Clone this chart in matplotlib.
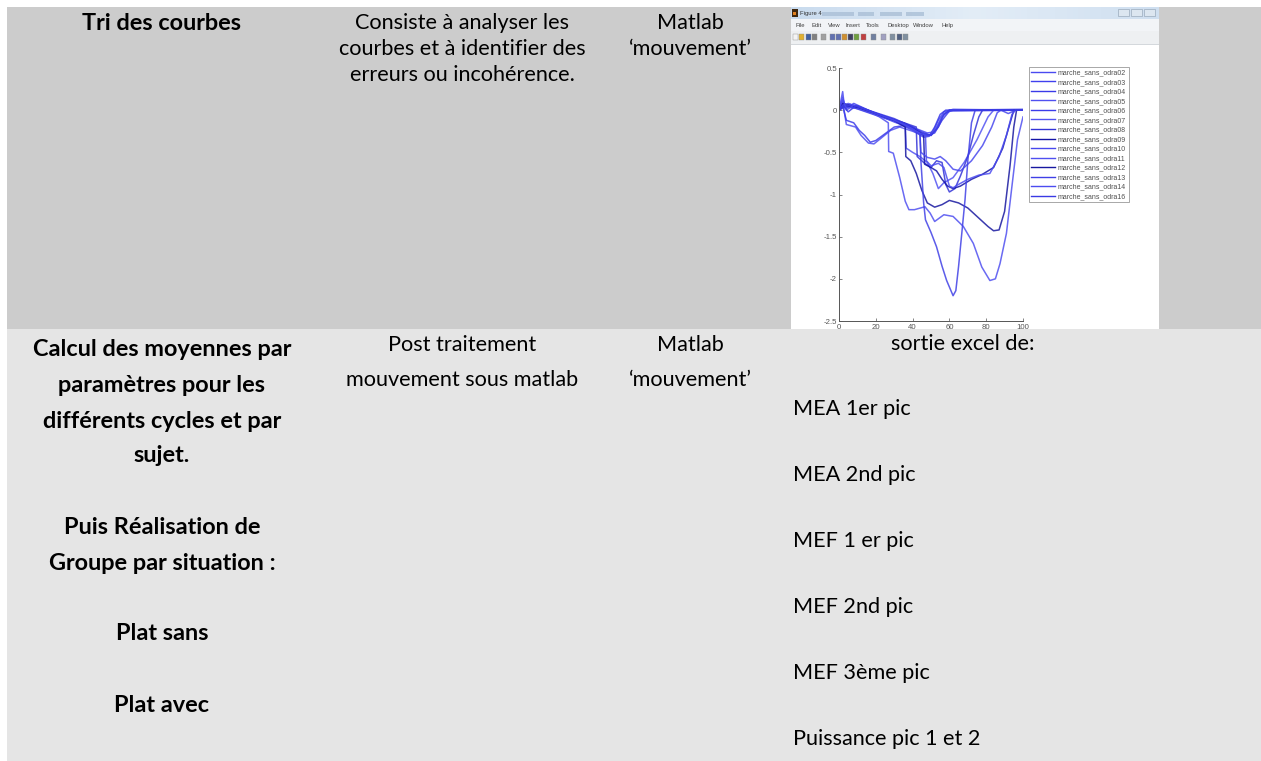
import numpy as np
import matplotlib
matplotlib.use("Agg")
import matplotlib.pyplot as plt
from matplotlib.patches import Rectangle
from matplotlib.lines import Line2D

plt.rcParams["axes.unicode_minus"] = False

W, H = 1261, 761

# === TABLE TEXT ===
ROW1_TASK = ["Tri des courbes"]
ROW1_DESC = ["Consiste à analyser les", "courbes et à identifier des", "erreurs ou incohérence."]
ROW1_TOOL = ["Matlab", "\u2018mouvement\u2019"]

ROW2_TASK = ["Calcul des moyennes par", "paramètres pour les", "différents cycles et par",
             "sujet.", "Puis Réalisation de", "Groupe par situation :", "Plat sans", "Plat avec"]
ROW2_DESC = ["Post traitement", "mouvement sous matlab"]
ROW2_TOOL = ["Matlab", "\u2018mouvement\u2019"]
ROW2_OUT_HEAD = "sortie excel de:"
ROW2_OUTPUTS = ["MEA 1er pic", "MEA 2nd pic", "MEF 1 er pic", "MEF 2nd pic",
                "MEF 3ème pic", "Puissance pic 1 et 2"]

# === EMBEDDED MATLAB FIGURE: curves (x, y) ===
odra02 = [(0, 0), (2, 0.22), (3, 0.03), (6, 0.07), (15, 0.0), (25, -0.08), (35, -0.15),
          (42, -0.22), (48, -0.27), (51, -0.26), (54, -0.12), (57, -0.02), (62, 0.01), (100, 0.0)]
odra03 = [(0, 0), (2, 0.12), (4, 0.02), (8, 0.08), (18, -0.02), (28, -0.1), (38, -0.19),
          (45, -0.27), (50, -0.3), (53, -0.22), (56, -0.08), (60, 0.0), (100, 0.0)]
odra04 = [(0, 0), (3, 0.05), (8, 0.03), (20, -0.06), (30, -0.13), (40, -0.24), (46, -0.32),
          (49, -0.31), (52, -0.2), (55, -0.05), (58, 0), (100, 0.01)]
odra05 = [(0, 0), (2, 0.1), (4, -0.17), (9, -0.2), (12, -0.3), (16, -0.39), (19, -0.4),
          (23, -0.33), (28, -0.24), (33, -0.2), (40, -0.25), (46, -0.3), (50, -0.29),
          (53, -0.2), (57, -0.04), (62, 0), (100, 0)]
odra06 = [(0, 0), (2, 0.05), (4, -0.12), (8, -0.15), (11, -0.24), (14, -0.3), (17, -0.38),
          (20, -0.36), (25, -0.28), (30, -0.2), (36, -0.18), (40, -0.2), (44, -0.27),
          (48, -0.3), (52, -0.27), (56, -0.12), (60, -0.01), (100, 0)]
odra07 = [(0, 0), (3, 0.07), (10, 0.03), (20, -0.05), (30, -0.12), (36, -0.18), (36.5, -0.45),
          (40, -0.5), (44, -0.55), (48, -0.62), (51, -0.75), (54, -0.93), (57, -0.86),
          (62, -0.8), (68, -0.62), (75, -0.35), (81, -0.08), (84, 0.0), (100, 0)]
odra08 = [(0, 0), (3, 0.05), (10, 0.05), (20, -0.04), (30, -0.11), (38, -0.17), (42, -0.2),
          (42.5, -0.55), (46, -0.62), (50, -0.68), (53, -0.6), (56, -0.62), (58, -0.88),
          (60, -0.97), (63, -0.93), (66, -0.78), (70, -0.55), (73, -0.3), (76, -0.08),
          (78, 0), (100, 0)]
odra09 = [(0, 0), (2, 0.08), (6, 0.06), (16, -0.01), (26, -0.09), (36, -0.16), (44, -0.26),
          (46, -0.3), (46.5, -0.64), (50, -0.68), (53, -0.72), (56, -0.82), (59, -0.9),
          (62, -0.93), (66, -0.9), (72, -0.82), (78, -0.76), (84, -0.68), (89, -0.45),
          (93, -0.15), (95, 0), (100, 0)]
odra10 = [(0, 0), (3, 0.04), (10, 0.02), (20, -0.05), (30, -0.14), (40, -0.22), (44, -0.28),
          (44.5, -0.5), (48, -0.56), (52, -0.58), (55, -0.55), (58, -0.6), (62, -0.7),
          (66, -0.72), (72, -0.6), (78, -0.42), (83, -0.2), (86, -0.03), (88, 0.0),
          (92, -0.04), (96, 0), (100, 0)]
odra11 = [(0, 0), (2, 0.05), (5, 0.08), (15, 0.0), (22, -0.08), (26.8, -0.15), (27, -0.49),
          (29.5, -0.51), (33, -0.8), (36, -1.08), (38, -1.18), (41, -1.18), (46.7, -1.145),
          (49.5, -1.22), (52, -1.32), (57, -1.24), (62, -1.26), (67.6, -1.38), (73, -1.58),
          (77.6, -1.86), (82, -2.02), (85, -2.0), (87.5, -1.82), (91, -1.46), (94, -0.9),
          (97, -0.35), (100, -0.08)]
odra12 = [(0, 0), (3, 0.06), (10, 0.04), (20, -0.04), (30, -0.12), (36, -0.2), (36.3, -0.55),
          (39, -0.6), (42, -0.75), (45, -0.95), (48, -1.1), (52, -1.15), (56, -1.12),
          (60, -1.07), (65, -1.1), (70, -1.16), (76, -1.28), (81, -1.38), (84, -1.43),
          (87, -1.42), (90, -1.2), (93, -0.65), (95, -0.2), (96.5, 0), (100, 0)]
odra13 = [(0, 0), (3, 0.06), (10, 0.05), (20, -0.04), (30, -0.12), (38, -0.2), (44, -0.28),
          (44.5, -0.6), (46, -1.1), (47, -1.3), (50, -1.45), (53, -1.62), (56, -1.85),
          (58.5, -2.02), (62, -2.2), (63.5, -2.14), (65, -1.85), (67, -1.4), (68.5, -1.06),
          (70, -0.6), (72, -0.15), (74, 0), (100, 0)]
odra14 = [(0, 0), (2, 0.15), (4, 0.0), (8, 0.06), (18, -0.02), (28, -0.1), (36, -0.17),
          (42, -0.25), (47, -0.3), (47.5, -0.6), (50, -0.66), (54, -0.63), (57, -0.68),
          (60, -0.9), (62, -0.92), (65, -0.88), (70, -0.82), (76, -0.77), (82, -0.75),
          (87, -0.55), (91, -0.3), (94, -0.05), (96, 0), (100, 0)]
odra16 = [(0, 0), (2, 0.06), (5, -0.02), (9, 0.05), (20, -0.03), (30, -0.1), (40, -0.2),
          (45, -0.26), (50, -0.3), (54, -0.2), (57, -0.05), (60, 0), (100, 0)]

CURVES = [odra02, odra03, odra04, odra05, odra06, odra07, odra08,
          odra09, odra10, odra11, odra12, odra13, odra14, odra16]
LABELS = ["marche_sans_odra02", "marche_sans_odra03", "marche_sans_odra04",
          "marche_sans_odra05", "marche_sans_odra06", "marche_sans_odra07",
          "marche_sans_odra08", "marche_sans_odra09", "marche_sans_odra10",
          "marche_sans_odra11", "marche_sans_odra12", "marche_sans_odra13",
          "marche_sans_odra14", "marche_sans_odra16"]
COLORS = ["#4a4af0", "#4040ee", "#3a3ae8", "#5050f0", "#3c3cea", "#5454f2", "#3434d8",
          "#1414a8", "#4848ee", "#5050f0", "#1818a0", "#4040e6", "#4c4cf0", "#3a3ae4"]

X_TICKS = [0, 20, 40, 60, 80, 100]
Y_TICKS = [0.5, 0, -0.5, -1, -1.5, -2, -2.5]

MENU_ITEMS = ["File", "Edit", "View", "Insert", "Tools", "Desktop", "Window", "Help"]
MENU_X = [795, 811, 828, 846, 866, 887, 913, 941]
TOOL_X = [793, 799, 806, 812, 821, 830, 836, 842, 848, 854, 861, 871, 881, 890, 897, 903]
TOOL_C = ["#f4f4f4", "#e0b030", "#4060a0", "#808080", "#a0a0a0", "#6070b0", "#6070b0",
          "#d09030", "#404060", "#70a040", "#c04040", "#7080a0", "#a0a0c0", "#8090a0",
          "#506080", "#8090a0"]

FONT = "Lato"
SIZE = 15.6
BOLD_SIZE = 16.9


def main() -> None:
    fig = plt.figure(figsize=(W / 100, H / 100), dpi=100)

    # ---- background layer: row 1 and the screenshot window ----
    back = fig.add_axes([0, 0, 1, 1], zorder=0)
    back.axis("off")
    back.add_patch(Rectangle((7, 7), W - 7, 322, color="#cccccc", lw=0))
    back.add_patch(Rectangle((791, 7), 368, 322, color="white", lw=0))

    # title bar gradient
    grad = np.linspace(0, 1, 64)[None, :]
    cmap = matplotlib.colors.LinearSegmentedColormap.from_list(
        "tb", ["#c9dbee", "#e3edf7", "#cfdff0"])
    back.imshow(grad, extent=(791, 1159, 19, 7), cmap=cmap, aspect="auto", zorder=1)
    back.set_xlim(0, W)
    back.set_ylim(H, 0)
    back.add_patch(Rectangle((792, 9), 6, 8, color="#402810", lw=0, zorder=2))
    back.add_patch(Rectangle((793, 12), 3, 3, color="#e08020", lw=0, zorder=3))
    back.text(800, 13.5, "Figure 4", fontsize=4.2, color="#303030", va="center",
              family="Liberation Sans", zorder=3)
    for bx, bw in [(822, 32), (858, 16), (880, 22), (906, 18)]:
        back.add_patch(Rectangle((bx, 11.5), bw, 4, color="#aabfd6", lw=0, alpha=0.8, zorder=2))
    for bx in [1118, 1131, 1144]:
        back.add_patch(Rectangle((bx, 9), 11, 7, facecolor="#dce6f0", edgecolor="#9aaabb",
                                 lw=0.5, zorder=2))
    # menu bar
    back.add_patch(Rectangle((791, 19), 368, 12, color="#f2f4f7", lw=0, zorder=1))
    for mx, item in zip(MENU_X, MENU_ITEMS):
        back.text(mx, 25.5, item, fontsize=4.2, color="#404040", va="center",
                  family="Liberation Sans", zorder=3)
    # tool bar
    back.add_patch(Rectangle((791, 31), 368, 13, color="#eef0f2", lw=0, zorder=1))
    back.add_patch(Rectangle((791, 43.5), 368, 1, color="#d4d8dc", lw=0, zorder=1))
    for tx, tc in zip(TOOL_X, TOOL_C):
        back.add_patch(Rectangle((tx, 34), 5, 6, facecolor=tc, edgecolor="#909090",
                                 lw=0.3, zorder=2))

    # ---- the Matlab axes ----
    ax = fig.add_axes([839 / W, 1 - 321 / H, 184 / W, 253 / H], zorder=1)
    ax.patch.set_alpha(0)
    for pts, col, lab in zip(CURVES, COLORS, LABELS):
        xs = [p[0] for p in pts]
        ys = [p[1] for p in pts]
        ax.plot(xs, ys, color=col, lw=1.1, alpha=0.85, label=lab)
    ax.set_xlim(0, 100)
    ax.set_ylim(-2.5, 0.5)
    ax.set_xticks(X_TICKS)
    ax.set_yticks(Y_TICKS)
    ax.set_yticklabels([f"{v:g}" for v in Y_TICKS])
    for side in ["top", "right"]:
        ax.spines[side].set_visible(False)
    for side in ["left", "bottom"]:
        ax.spines[side].set_color("#555555")
        ax.spines[side].set_linewidth(0.7)
    ax.tick_params(direction="in", length=2, width=0.5, colors="#555555",
                   labelsize=5.6, pad=1.5)
    ax.tick_params(axis="x", pad=2.5)
    for t in ax.get_xticklabels() + ax.get_yticklabels():
        t.set_family("Liberation Sans")
    leg = ax.legend(handles=[Line2D([], [], color=c, lw=1.0) for c in COLORS], labels=LABELS,
                    loc="upper left", bbox_to_anchor=(1029 / W, 1 - 67 / H),
                    bbox_transform=fig.transFigure, frameon=True,
                    fancybox=False, edgecolor="#808080", handlelength=3.4,
                    handletextpad=0.4, labelspacing=0.36, borderpad=0.35,
                    borderaxespad=0, prop={"family": "Liberation Sans", "size": 5.0})
    leg.get_frame().set_linewidth(0.6)
    for t in leg.get_texts():
        t.set_color("#505050")

    # ---- front layer: row 2 background and all table text ----
    front = fig.add_axes([0, 0, 1, 1], zorder=2)
    front.set_xlim(0, W)
    front.set_ylim(H, 0)
    front.axis("off")
    front.patch.set_alpha(0)
    front.add_patch(Rectangle((7, 329), W - 7, H - 329, color="#e5e5e5", lw=0))

    def put(x, y, s, bold=False, ha="center"):
        front.text(x, y, s, ha=ha, va="center", family=FONT,
                   fontsize=BOLD_SIZE if bold else SIZE,
                   fontweight="bold" if bold else "normal", color="black")

    col1, col2, col3 = 162, 462, 690
    put(col1, 23, ROW1_TASK[0], bold=True)
    for y, s in zip([23, 49, 75], ROW1_DESC):
        put(col2, y, s)
    for y, s in zip([23, 49], ROW1_TOOL):
        put(col3, y, s)

    for y, s in zip([350, 385, 421, 456, 527, 563, 634, 705], ROW2_TASK):
        put(col1, y, s, bold=True)
    for y, s in zip([345, 380], ROW2_DESC):
        put(col2, y, s)
    for y, s in zip([345, 380], ROW2_TOOL):
        put(col3, y, s)
    put(963, 344, ROW2_OUT_HEAD)
    for y, s in zip([409, 475, 541, 607, 673, 739], ROW2_OUTPUTS):
        put(793, y, s, ha="left")

    fig.savefig("out.png", dpi=100)
    plt.close(fig)


if __name__ == "__main__":
    main()
